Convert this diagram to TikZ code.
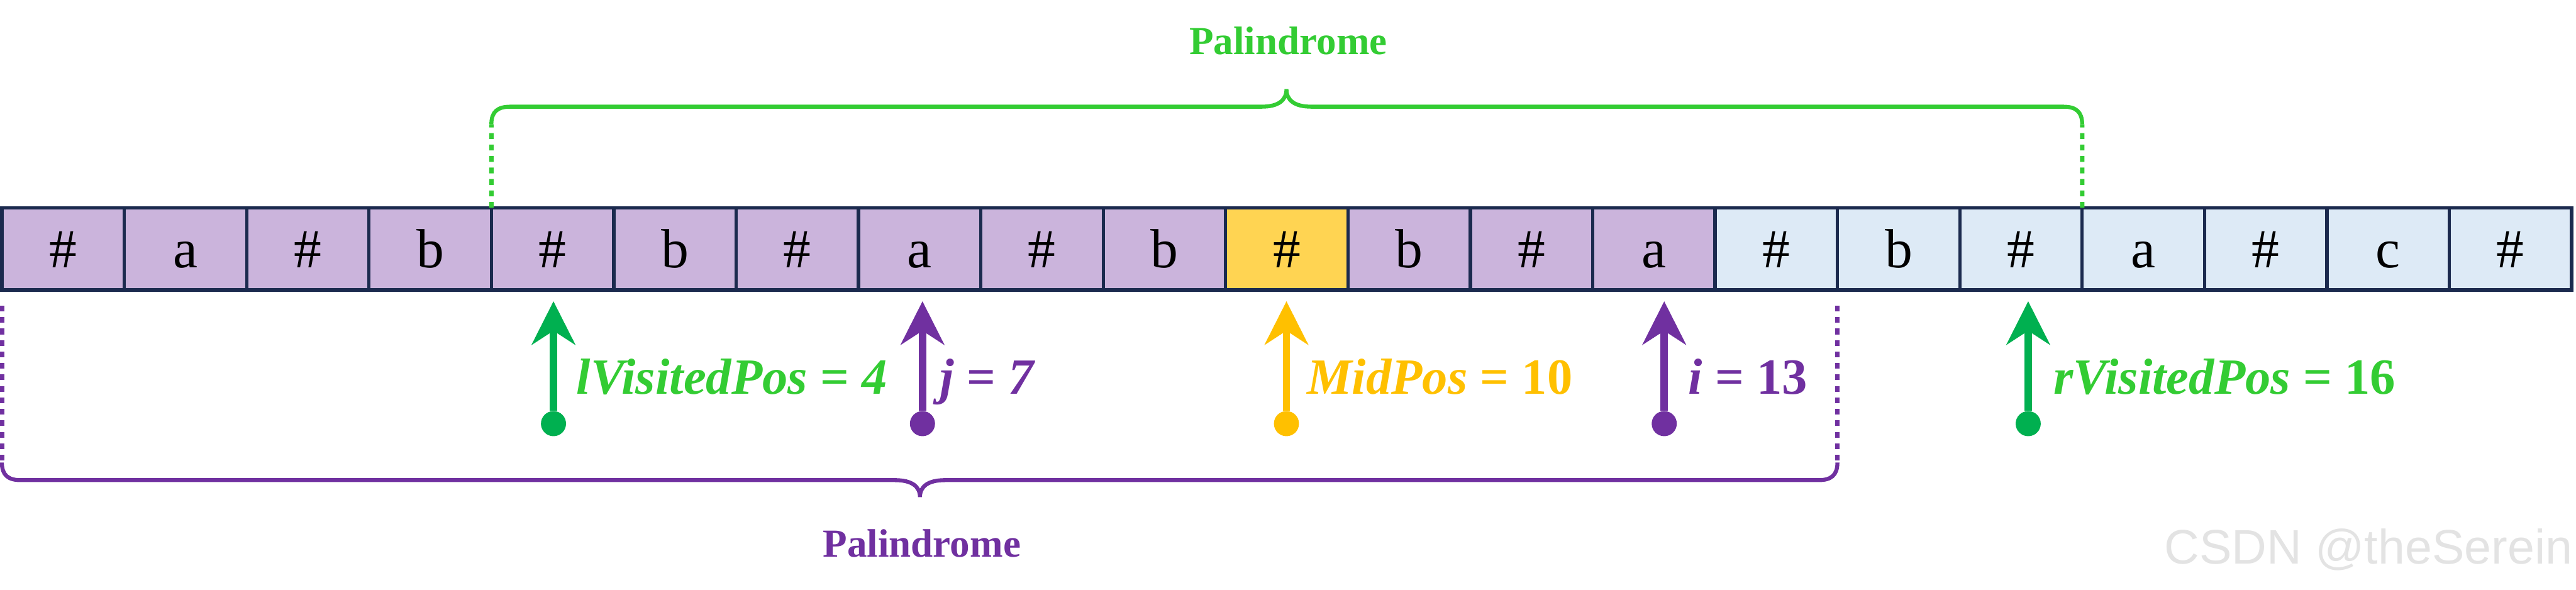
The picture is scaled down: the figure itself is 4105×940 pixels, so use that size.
\documentclass[tikz,border=0pt]{standalone}
\usepackage{fontspec}
\setmainfont{Liberation Serif}
\newfontfamily\wmfont{Liberation Sans}
\usepackage{tikz}
\usetikzlibrary{arrows.meta, calc}

\definecolor{cellLav}{HTML}{CBB4DC}
\definecolor{cellMid}{HTML}{FFD452}
\definecolor{cellBlue}{HTML}{DDEAF6}
\definecolor{cellLine}{HTML}{1B2A4E}
\definecolor{palPurple}{HTML}{7030A0}
\definecolor{palGreen}{HTML}{33CC33}
\definecolor{ptrGreen}{HTML}{00B050}
\definecolor{ptrGold}{HTML}{FFC000}

\tikzset{
  cell/.style={draw=cellLine, line width=1.5pt, rectangle, minimum width=19.5mm,
    minimum height=13.1mm, inner sep=0pt, outer sep=0pt, text height=17pt, text depth=0pt,
    font=\fontsize{25}{30}\selectfont},
  ptr/.style={line width=3.3pt, -{Stealth[length=6.9mm, width=6.9mm, inset=2.2mm]}},
  ptrdot/.style={circle, fill, inner sep=0pt, minimum size=4mm},
  ptrlabel/.style={anchor=base west, inner sep=0pt, font=\fontsize{23}{28}\selectfont},
  bracedash/.style={line width=2pt, dash pattern=on 2.6pt off 2.6pt},
  braceline/.style={line width=1.8pt},
  bracetext/.style={anchor=base, inner sep=0pt, font=\fontsize{18}{22}\selectfont\bfseries}
}

\begin{document}
\begin{tikzpicture}[x=0.1mm, y=-0.1mm]
\useasboundingbox (0,0) rectangle (4105,940);

% the string with separators
\foreach \ch [count=\k from 0] in {\#,a,\#,b,\#,b,\#,a,\#,b,\#,b,\#,a,\#,b,\#,a,\#,c,\#}{
  \ifnum\k=10 \def\cellfill{cellMid}\else\ifnum\k>13 \def\cellfill{cellBlue}\else\def\cellfill{cellLav}\fi\fi
  \node[cell, fill=\cellfill] (c\k) at ({3+195*\k+97.5},396.5) {\ch};
}

% upper palindrome
\coordinate (gl) at (783,198);
\coordinate (gr) at (3318,198);
\draw[palGreen, bracedash] (c4.north west) -- (gl);
\draw[palGreen, bracedash] (c16.north east) -- (gr);
\draw[palGreen, braceline] (gl) .. controls (783,178) and (793,170) .. (813,170) -- (2010,170)
  .. controls (2037,170) and (2050,160) .. (2050,142) .. controls (2050,160) and (2063,170) .. (2090,170)
  -- (3288,170) .. controls (3308,170) and (3318,178) .. (gr);
\node[bracetext, palGreen] (gtext) at (2053,87) {Palindrome};

% lower palindrome
\coordinate (plt) at (3,487);
\coordinate (pl) at (3,737);
\coordinate (prt) at (2928,487);
\coordinate (pr) at (2928,737);
\draw[palPurple, bracedash] (plt) -- (pl);
\draw[palPurple, bracedash] (prt) -- (pr);
\draw[palPurple, braceline] (pl) .. controls (3,757) and (13,765) .. (33,765) -- (1426,765)
  .. controls (1453,765) and (1466,775) .. (1466,792) .. controls (1466,775) and (1479,765) .. (1506,765)
  -- (2898,765) .. controls (2918,765) and (2928,757) .. (pr);
\node[bracetext, palPurple] (ptext) at (1469,887) {Palindrome};

% pointers
\node[ptrdot, ptrGreen] (lDot) at (882,675) {};
\coordinate (lTip) at (882,480);
\draw[ptr, ptrGreen] (lDot) -- (lTip);
\node[ptrlabel, palGreen] (lLab) at (918,628) {\bfseries\itshape lVisitedPos {\upshape =} 4};

\node[ptrdot, palPurple] (jDot) at (1470,675) {};
\coordinate (jTip) at (1470,480);
\draw[ptr, palPurple] (jDot) -- (jTip);
\node[ptrlabel, palPurple] (jLab) at (1497,628) {\bfseries\itshape j {\upshape =} 7};

\node[ptrdot, ptrGold] (mDot) at (2050,675) {};
\coordinate (mTip) at (2050,480);
\draw[ptr, ptrGold] (mDot) -- (mTip);
\node[ptrlabel, ptrGold] (mLab) at (2082,628) {\bfseries\itshape MidPos {\upshape = 10}};

\node[ptrdot, palPurple] (iDot) at (2652,675) {};
\coordinate (iTip) at (2652,480);
\draw[ptr, palPurple] (iDot) -- (iTip);
\node[ptrlabel, palPurple] (iLab) at (2690,628) {\bfseries\itshape i {\upshape = 13}};

\node[ptrdot, ptrGreen] (rDot) at (3232,675) {};
\coordinate (rTip) at (3232,480);
\draw[ptr, ptrGreen] (rDot) -- (rTip);
\node[ptrlabel, palGreen] (rLab) at (3272,628) {\bfseries\itshape rVisitedPos {\upshape = 16}};

\node[anchor=base east, inner sep=0pt, text=gray!22, font=\wmfont\fontsize{22}{26}\selectfont] (wm) at (4100,898) {CSDN @theSerein};
\end{tikzpicture}
\end{document}
